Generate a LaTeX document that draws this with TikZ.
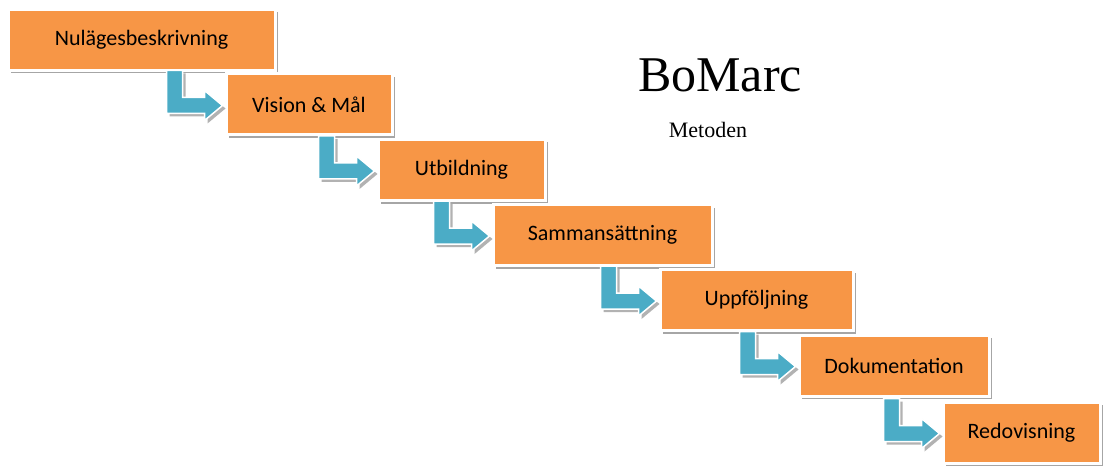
\documentclass[tikz,border=0pt]{standalone}
\usepackage{fontspec}
\setmainfont{Carlito}
\newfontfamily\titlefont{Liberation Serif}
\usetikzlibrary{shadows}
\definecolor{orng}{HTML}{F79646}
\definecolor{arrc}{HTML}{4BACC6}
\tikzset{
  stepbox/.style={fill=orng, draw=white, line width=3pt, minimum height=61pt, font=\fontsize{22}{24}\selectfont, inner sep=0pt,
    drop shadow={shadow xshift=3pt, shadow yshift=-3pt, fill=black!35, opacity=1}},
  bentarrow/.pic={
    \fill[black!30] (-55,-31) -- (-39,-31) -- (-39,-4) -- (-17,-4) -- (-17,-11) -- (1,4) -- (-17,19) -- (-17,12) -- (-55,12) -- cycle;
    \filldraw[fill=arrc, draw=white, line width=1.5pt] (-58,-34) -- (-42,-34) -- (-42,-7) -- (-20,-7) -- (-20,-14) -- (-2,1) -- (-20,16) -- (-20,9) -- (-58,9) -- cycle;
  }
}
\begin{document}
\begin{tikzpicture}[x=1pt,y=-1pt]
\useasboundingbox (0,0) rectangle (1109,476);
\node[stepbox, minimum width=267pt] (b1) at (141.5,40) {Nulägesbeskrivning};
\node[stepbox, minimum width=166pt] (b2) at (309,104.5) {Vision \& Mål};
\node[stepbox, minimum width=167pt] (b3) at (461.5,170) {Utbildning};
\node[stepbox, minimum width=219pt] (b4) at (602.5,235) {Sammansättning};
\node[stepbox, minimum width=193pt] (b5) at (756.5,300) {Uppföljning};
\node[stepbox, minimum width=190pt] (b6) at (894,365.5) {Dokumentation};
\node[stepbox, minimum width=157pt] (b7) at (1021.5,432.5) {Redovisning};
\foreach \b in {b2,b3,b4,b5,b6,b7} { \path (\b.west) pic {bentarrow}; }
\node[font=\titlefont\fontsize{50}{52}\selectfont] (t) at (720,75) {BoMarc};
\node[font=\titlefont\fontsize{22}{24}\selectfont] (m) at (708,130) {Metoden};
\end{tikzpicture}
\end{document}
